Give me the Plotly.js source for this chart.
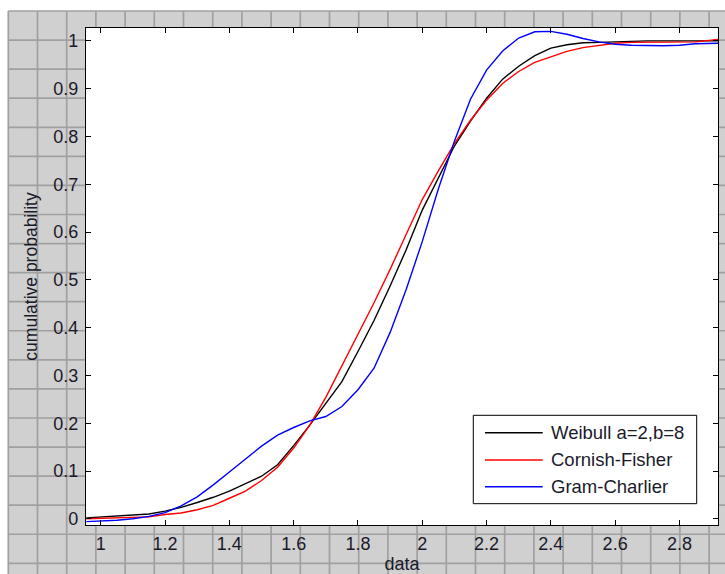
<!DOCTYPE html>
<html>
<head>
<meta charset="utf-8">
<script src="https://cdn.plot.ly/plotly-3.0.1.min.js"></script>
<style>
  html, body { margin: 0; padding: 0; background: #ffffff; }
  #wrap { position: relative; width: 725px; height: 574px; overflow: hidden; }
  #bg { position: absolute; left: 0; top: 0; }
  #chart { position: absolute; left: 0; top: 0; width: 725px; height: 574px; }
</style>
</head>
<body>
<div id="wrap">
  <svg id="bg" width="725" height="574"></svg>
  <div id="chart"></div>
</div>
<script>
// ---- data ----
const xData = [0.955, 1.00, 1.05, 1.10, 1.15, 1.20, 1.25, 1.30, 1.35, 1.40,
               1.45, 1.50, 1.55, 1.60, 1.65, 1.70, 1.75, 1.80, 1.85, 1.90,
               1.95, 2.00, 2.05, 2.10, 2.15, 2.20, 2.25, 2.30, 2.35, 2.40,
               2.45, 2.50, 2.55, 2.60, 2.65, 2.70, 2.75, 2.80, 2.85, 2.92];

const weibull = [0.002, 0.004, 0.005, 0.007, 0.010, 0.016, 0.024, 0.034, 0.045, 0.058,
                 0.073, 0.089, 0.113, 0.153, 0.196, 0.242, 0.287, 0.350, 0.415, 0.487,
                 0.563, 0.646, 0.713, 0.780, 0.832, 0.880, 0.920, 0.947, 0.969, 0.985,
                 0.992, 0.996, 0.997, 0.998, 1.000, 1.000, 1.000, 1.000, 1.000, 1.000];

const cornishFisher = [0.000, 0.001, 0.002, 0.002, 0.004, 0.009, 0.012, 0.019, 0.028, 0.043,
                       0.058, 0.080, 0.108, 0.148, 0.196, 0.254, 0.320, 0.385, 0.452, 0.522,
                       0.595, 0.668, 0.728, 0.785, 0.834, 0.876, 0.911, 0.936, 0.955, 0.967,
                       0.978, 0.986, 0.991, 0.995, 0.997, 0.997, 0.997, 0.997, 0.998, 1.003];

const gramCharlier = [-0.006, -0.005, -0.003, 0.000, 0.005, 0.013, 0.027, 0.046, 0.071, 0.098,
                      0.125, 0.152, 0.175, 0.191, 0.205, 0.214, 0.235, 0.270, 0.315, 0.390,
                      0.480, 0.580, 0.690, 0.790, 0.878, 0.939, 0.979, 1.006, 1.019, 1.020,
                      1.014, 1.005, 0.998, 0.993, 0.991, 0.990, 0.990, 0.991, 0.994, 0.995];

const seriesNames = ["Weibull a=2,b=8", "Cornish-Fisher", "Gram-Charlier"];
const seriesColors = ["#000000", "#ff0000", "#0000ff"];

const xTickVals = [1, 1.2, 1.4, 1.6, 1.8, 2, 2.2, 2.4, 2.6, 2.8];
const xTickText = ["1", "1.2", "1.4", "1.6", "1.8", "2", "2.2", "2.4", "2.6", "2.8"];
const yTickVals = [0, 0.1, 0.2, 0.3, 0.4, 0.5, 0.6, 0.7, 0.8, 0.9, 1];
const yTickText = ["0", "0.1", "0.2", "0.3", "0.4", "0.5", "0.6", "0.7", "0.8", "0.9", "1"];

// ---- grey figure grid behind the chart (decoration) ----
(function drawBackground() {
  const svg = document.getElementById('bg');
  const ns = 'http://www.w3.org/2000/svg';
  const x0 = 8.3, y0 = 11, dx = 29.2, dy = 29.07;
  const r = document.createElementNS(ns, 'rect');
  r.setAttribute('x', x0); r.setAttribute('y', y0);
  r.setAttribute('width', 725 - x0); r.setAttribute('height', 574 - y0);
  r.setAttribute('fill', '#d0d0d0');
  svg.appendChild(r);
  for (let x = x0; x < 725; x += dx) {
    const l = document.createElementNS(ns, 'line');
    l.setAttribute('x1', x); l.setAttribute('x2', x);
    l.setAttribute('y1', y0); l.setAttribute('y2', 574);
    l.setAttribute('stroke', '#a0a0a0'); l.setAttribute('stroke-width', '1.7');
    svg.appendChild(l);
  }
  for (let y = y0; y < 574; y += dy) {
    const l = document.createElementNS(ns, 'line');
    l.setAttribute('x1', x0); l.setAttribute('x2', 725);
    l.setAttribute('y1', y); l.setAttribute('y2', y);
    l.setAttribute('stroke', '#a0a0a0'); l.setAttribute('stroke-width', '1.7');
    svg.appendChild(l);
  }
})();

const ys = [weibull, cornishFisher, gramCharlier];
const traces = ys.map((y, i) => ({
  x: xData, y: y, type: 'scatter', mode: 'lines', name: seriesNames[i],
  line: { color: seriesColors[i], width: 1.4 }, showlegend: false
}));

// manual MATLAB-like legend box
const legX0 = 0.6128, legX1 = 0.9663, legY0 = 0.0429, legY1 = 0.2207;
const rowY = [0.1857, 0.1308, 0.0771];
const shapes = [{
  type: 'rect', xref: 'paper', yref: 'paper', x0: legX0, x1: legX1, y0: legY0, y1: legY1,
  line: { color: '#000000', width: 1 }, fillcolor: '#ffffff', layer: 'above'
}];
const annotations = [];
seriesNames.forEach((n, i) => {
  shapes.push({ type: 'line', xref: 'paper', yref: 'paper', x0: 0.6313, x1: 0.7226,
    y0: rowY[i], y1: rowY[i], line: { color: seriesColors[i], width: 1.4 }, layer: 'above' });
  annotations.push({ xref: 'paper', yref: 'paper', x: 0.7326, y: rowY[i], text: n,
    showarrow: false, xanchor: 'left', yanchor: 'middle',
    font: { family: 'Liberation Sans, Arial, sans-serif', size: 18.5, color: '#1a1a2a' } });
});

const fontFam = 'Liberation Sans, Arial, sans-serif';
const layout = {
  width: 725, height: 574,
  margin: { l: 86, r: 7, t: 28, b: 49, pad: 0 },
  paper_bgcolor: 'rgba(0,0,0,0)',
  plot_bgcolor: '#ffffff',
  showlegend: false,
  font: { family: fontFam, size: 18, color: '#1a1a2a' },
  xaxis: {
    range: [0.954, 2.92], tickmode: 'array', tickvals: xTickVals, ticktext: xTickText,
    showgrid: false, zeroline: false, showline: true, linecolor: '#000', linewidth: 1.2,
    mirror: 'ticks', ticks: 'inside', ticklen: 5, tickcolor: '#000', tickwidth: 1,
    ticklabelstandoff: 2,
    tickfont: { family: fontFam, size: 18, color: '#1a1a2a' },
    title: { text: 'data', font: { family: fontFam, size: 18, color: '#1a1a2a' }, standoff: 3 },
    automargin: false
  },
  yaxis: {
    range: [-0.013, 1.027], tickmode: 'array', tickvals: yTickVals, ticktext: yTickText,
    showgrid: false, zeroline: false, showline: true, linecolor: '#000', linewidth: 1.2,
    mirror: 'ticks', ticks: 'inside', ticklen: 5, tickcolor: '#000', tickwidth: 1,
    ticklabelstandoff: 3,
    tickfont: { family: fontFam, size: 18, color: '#1a1a2a' },
    title: { text: 'cumulative probability', font: { family: fontFam, size: 17.5, color: '#1a1a2a' }, standoff: 11 },
    automargin: false
  },
  shapes: shapes,
  annotations: annotations
};

Plotly.newPlot('chart', traces, layout, { displayModeBar: false, staticPlot: true });
</script>
</body>
</html>
